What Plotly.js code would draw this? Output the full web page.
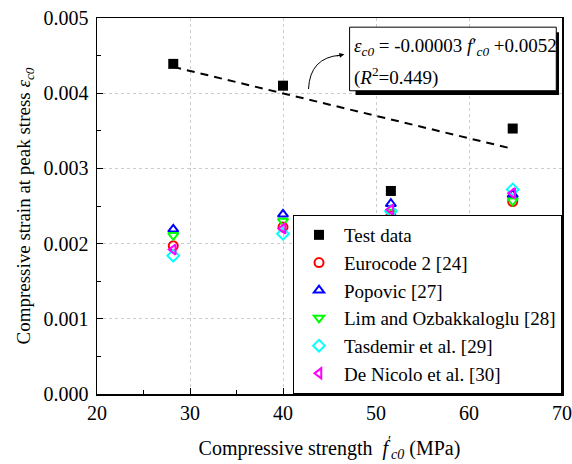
<!DOCTYPE html>
<html>
<head>
<meta charset="utf-8">
<script src="https://cdn.plot.ly/plotly-3.0.1.min.js"></script>
<style>html,body{margin:0;padding:0;background:#fff;}#chart{width:572px;height:464px;}</style>
</head>
<body>
<div id="chart"></div>
<script>
// Compressive strength f'c0 (MPa)
const strength = [28.2, 40.0, 51.6, 64.7];
// Compressive strain at peak stress
const testData   = [0.00439, 0.00410, 0.00270, 0.00353];
const eurocode2  = [0.00197, 0.00222, 0.00237, 0.00256];
const popovic    = [0.00219, 0.00239, 0.00253, 0.00265];
const limOzb     = [0.00211, 0.00230, 0.00242, 0.00257];
const tasdemir   = [0.00184, 0.00213, 0.00243, 0.00272];
const deNicolo   = [0.00192, 0.00220, 0.00245, 0.00267];
// regression line end points
const fitX = [28.2, 64.7];
const fitY = [0.00435, 0.00326];

const seriesNames = ['Test data', 'Eurocode 2 [24]', 'Popovic [27]', 'Lim and Ozbakkaloglu [28]', 'Tasdemir et al. [29]', 'De Nicolo et al. [30]'];

const FONT = '"Liberation Serif", "Times New Roman", serif';

function openTrace(name, y, symbol, color) {
  return {
    x: strength, y: y, name: name, type: 'scatter', mode: 'markers',
    marker: {symbol: symbol, size: 9, color: color, line: {color: color, width: 2}}
  };
}

const traces = [
  {x: fitX, y: fitY, type: 'scatter', mode: 'lines', showlegend: false, hoverinfo: 'skip',
   line: {color: '#000', width: 2, dash: '8px,6px'}},
  {x: strength, y: testData, name: seriesNames[0], type: 'scatter', mode: 'markers',
   marker: {symbol: 'square', size: 10, color: '#000'}},
  openTrace(seriesNames[1], eurocode2, 'circle-open', '#ff0000'),
  openTrace(seriesNames[2], popovic, 'triangle-up-open', '#0000ff'),
  openTrace(seriesNames[3], limOzb, 'triangle-down-open', '#00ff00'),
  openTrace(seriesNames[4], tasdemir, 'diamond-open', '#00ffff'),
  openTrace(seriesNames[5], deNicolo, 'triangle-left-open', '#ff00ff')
];

const layout = {
  width: 572, height: 464,
  margin: {l: 97, r: 10, t: 18, b: 70},
  paper_bgcolor: '#fff', plot_bgcolor: '#fff',
  font: {family: FONT, size: 19, color: '#000'},
  showlegend: true,
  legend: {
    x: 1, y: 0, xanchor: 'right', yanchor: 'bottom',
    bgcolor: '#fff', bordercolor: '#000', borderwidth: 1,
    font: {family: FONT, size: 19, color: '#000'},
    tracegroupgap: 0, itemwidth: 40
  },
  xaxis: {
    range: [20, 70], dtick: 10, tick0: 20,
    showline: true, linecolor: '#000', linewidth: 1.5, mirror: true,
    ticks: 'inside', ticklen: 6, tickwidth: 1, tickcolor: '#000',
    minor: {dtick: 5, ticks: 'inside', ticklen: 4, tickcolor: '#000', showgrid: false},
    showgrid: true, gridcolor: '#cccccc', griddash: 'dot', gridwidth: 1,
    zeroline: false,
    tickfont: {family: FONT, size: 20},
    title: {text: 'Compressive strength  <i>f</i><sup>′</sup><sub><i>c0</i></sub> (MPa)', font: {family: FONT, size: 20}, standoff: 18}
  },
  yaxis: {
    range: [0, 0.005], dtick: 0.001, tick0: 0, tickformat: '.3f',
    showline: true, linecolor: '#000', linewidth: 1.5, mirror: true,
    ticks: 'inside', ticklen: 6, tickwidth: 1, tickcolor: '#000',
    minor: {dtick: 0.0005, ticks: 'inside', ticklen: 4, tickcolor: '#000', showgrid: false},
    showgrid: true, gridcolor: '#cccccc', griddash: 'dot', gridwidth: 1,
    zeroline: false,
    ticklabelstandoff: 3,
    tickfont: {family: FONT, size: 20},
    title: {text: 'Compressive strain at peak stress <i>ε</i><sub><i>c0</i></sub>', font: {family: FONT, size: 19}, standoff: 8}
  },
  shapes: [
    // shadow of equation box
    {type: 'rect', xref: 'paper', yref: 'paper', x0: 0.556, x1: 0.9935, y0: 0.795, y1: 0.962,
     fillcolor: '#000', line: {width: 0}, layer: 'above'},
    // equation box
    {type: 'rect', xref: 'paper', yref: 'paper', x0: 0.5432, x1: 0.9877, y0: 0.8065, y1: 0.9756,
     fillcolor: '#fff', line: {color: '#000', width: 1}, layer: 'above'},
    // curved arrow
    {type: 'path', xref: 'paper', yref: 'paper', layer: 'above',
     path: 'M 0.4548 0.811 Q 0.458 0.895 0.523 0.901', line: {color: '#000', width: 1}}
  ],
  annotations: [
    {xref: 'paper', yref: 'paper', x: 0.532, y: 0.9035, ax: -9, ay: 2, text: '',
     showarrow: true, arrowhead: 2, arrowsize: 1, arrowwidth: 1, arrowcolor: '#000'},
    {xref: 'paper', yref: 'paper', x: 0.549, y: 0.923, xanchor: 'left', yanchor: 'middle', showarrow: false,
     text: '<i>ε</i><sub><i>c0</i></sub> = -0.00003 <i>f</i>′<sub><i>c0</i></sub> +0.0052',
     font: {family: FONT, size: 19, color: '#000'}},
    {xref: 'paper', yref: 'paper', x: 0.549, y: 0.8437, xanchor: 'left', yanchor: 'middle', showarrow: false,
     text: '(<i>R</i><sup>2</sup>=0.449)',
     font: {family: FONT, size: 19, color: '#000'}}
  ]
};

Plotly.newPlot('chart', traces, layout, {displayModeBar: false, staticPlot: true});
</script>
</body>
</html>
